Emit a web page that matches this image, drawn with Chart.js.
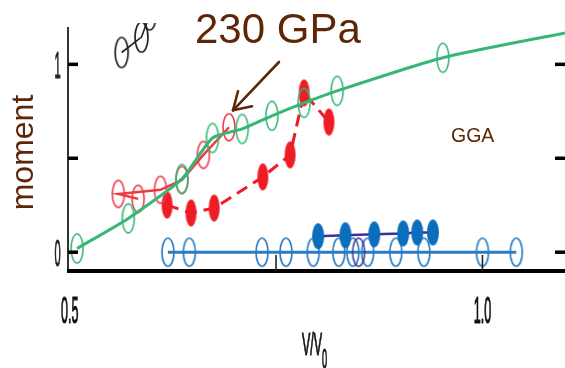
<!DOCTYPE html>
<html>
<head>
<meta charset="utf-8">
<script src="https://cdn.jsdelivr.net/npm/chart.js@4"></script>
<style>
  html, body { margin: 0; padding: 0; background: #fff; overflow: hidden; }
  #wrap { width: 565px; height: 368px; position: relative; }
</style>
</head>
<body>
<div id="wrap"><canvas id="c" width="565" height="368"></canvas></div>
<script>
// Axis ticks
const xTickValues = [0.5, 0.75, 1.0];
const xTickLabels = ['0.5', '', '1.0'];
const yTickValues = [0, 0.5, 1];
const yTickLabels = ['0', '', '1'];

// GGA moment vs V/V0
const greenX = [0.509, 0.571, 0.636, 0.673, 0.709, 0.745, 0.784, 0.824, 0.952];
const greenY = [0.02, 0.18, 0.39, 0.608, 0.656, 0.726, 0.795, 0.859, 1.035];
const greenCurveX = [...greenX, 1.1];
const greenCurveY = [...greenY, 1.167];

const redOpenX = [0.583, 0.559, 0.610, 0.636, 0.662, 0.693];
const redOpenY = [0.284, 0.31, 0.332, 0.385, 0.518, 0.665];

const redFilledX = [0.618, 0.647, 0.675, 0.734, 0.767, 0.784, 0.814];
const redFilledY = [0.251, 0.209, 0.235, 0.401, 0.518, 0.848, 0.693];

const blueOpenX = [0.619, 0.645, 0.733, 0.762, 0.795, 0.826, 0.843, 0.861, 0.895, 0.929, 1.0, 1.041];
const blueOpenY = [0, 0, 0, 0, 0, 0, 0, 0, 0, 0, 0, 0];

const purpleOpenX = [0.850];
const purpleOpenY = [0];

const blueFilledX = [0.801, 0.834, 0.869, 0.904, 0.921, 0.940];
const blueFilledY = [0.085, 0.09, 0.095, 0.1, 0.105, 0.105];

const blackX = [0.563, 0.587, 0.597];
const blackY = [1.063, 1.145, 1.263];

const pts = (xs, ys) => xs.map((v, i) => ({ x: v, y: ys[i] }));

// Elliptical markers rendered to small canvases
function ellipseMarker(w, h, color, filled, lw) {
  const c = document.createElement('canvas');
  c.width = w + 4; c.height = h + 4;
  const g = c.getContext('2d');
  g.beginPath();
  g.ellipse(c.width / 2, c.height / 2, w / 2, h / 2, 0, 0, Math.PI * 2);
  if (filled) { g.fillStyle = color; g.fill(); }
  else { g.strokeStyle = color; g.lineWidth = lw; g.stroke(); }
  return c;
}

const C = {
  green: '#36b776',
  red: '#ee3a43',
  redFill: '#ee1c25',
  blue: '#2b7cc4',
  blueFill: '#0a6ebd',
  purple: '#3b3393',
  black: '#222222',
  brown: '#5e2608'
};

const mGreen = ellipseMarker(12, 29, C.green, false, 1.6);
const mRed = ellipseMarker(12, 27, C.red, false, 1.6);
const mRedFill = ellipseMarker(11, 27, C.redFill, true);
const mBlue = ellipseMarker(12, 28, C.blue, false, 1.7);
const mBlueFill = ellipseMarker(12, 26, C.blueFill, true);
const mPurple = ellipseMarker(12, 28, C.purple, false, 1.5);
const mBlack = ellipseMarker(13, 30, C.black, false, 1.7);

function squished(ctx, text, x, baseline, font, sx, color, align) {
  ctx.save();
  ctx.font = font;
  ctx.fillStyle = color;
  ctx.strokeStyle = color;
  ctx.lineWidth = 1.2;
  ctx.textBaseline = 'alphabetic';
  const w = ctx.measureText(text).width * sx;
  let left = x;
  if (align === 'center') left = x - w / 2;
  else if (align === 'right') left = x - w;
  ctx.translate(left, baseline);
  ctx.scale(sx, 1);
  ctx.fillText(text, 0, 0);
  ctx.strokeText(text, 0, 0);
  ctx.restore();
}

const frame = {
  id: 'frame',
  afterDatasetsDraw(chart) {
    const { ctx, chartArea: a, scales: { x, y } } = chart;
    const seg = (x1, y1, x2, y2) => { ctx.beginPath(); ctx.moveTo(x1, y1); ctx.lineTo(x2, y2); ctx.stroke(); };
    ctx.save();
    ctx.lineCap = 'butt';

    // axis lines
    ctx.strokeStyle = '#333';
    ctx.lineWidth = 2;
    seg(a.left, 27, a.left, a.bottom);
    ctx.strokeStyle = '#000';
    ctx.lineWidth = 4;
    seg(a.left - 1, a.bottom, a.right, a.bottom);

    // y ticks (inward, both sides) and labels
    yTickValues.forEach((v, i) => {
      const py = y.getPixelForValue(v);
      ctx.strokeStyle = '#000';
      ctx.lineWidth = 3.5;
      seg(a.left, py, a.left + 10, py);
      seg(a.right - 10, py, a.right, py);
      if (yTickLabels[i]) squished(ctx, yTickLabels[i], 57.5, py + 14, '37px "Liberation Sans"', 0.3, '#222', 'center');
    });

    // x ticks (inward) and labels
    xTickValues.forEach((v, i) => {
      const px = x.getPixelForValue(v);
      if (v > 0.5) {
        ctx.strokeStyle = '#222';
        ctx.lineWidth = 1.6;
        seg(px, a.bottom - 16, px, a.bottom);
      }
      if (xTickLabels[i]) squished(ctx, xTickLabels[i], px, 323, '37px "Liberation Sans"', 0.34, '#111', 'center');
    });

    // x title V/V0
    squished(ctx, 'V/V', 302, 355, '32px "Liberation Sans"', 0.39, '#111', 'left');
    squished(ctx, '0', 322, 368, '28px "Liberation Sans"', 0.33, '#111', 'left');

    // y title
    ctx.save();
    ctx.translate(33, 152.5);
    ctx.rotate(-Math.PI / 2);
    ctx.font = '32px "Liberation Sans"';
    ctx.fillStyle = C.brown;
    ctx.textAlign = 'center';
    ctx.textBaseline = 'alphabetic';
    ctx.fillText('moment', 0, 0);
    ctx.restore();

    // annotations
    ctx.font = '42px "Liberation Sans"';
    ctx.fillStyle = C.brown;
    ctx.textAlign = 'left';
    ctx.textBaseline = 'alphabetic';
    ctx.fillText('230 GPa', 195, 43);
    ctx.font = '19.5px "Liberation Sans"';
    ctx.fillText('GGA', 451, 142);

    // arrow toward the 230 GPa point
    const n = redOpenX.length - 1;
    const tx = x.getPixelForValue(redOpenX[n]) + 4;
    const ty = y.getPixelForValue(redOpenY[n]) - 17;
    ctx.strokeStyle = C.brown;
    ctx.lineWidth = 2.6;
    ctx.lineCap = 'round';
    seg(279, 62, tx, ty);
    seg(tx, ty, tx + 5, ty - 19);
    seg(tx, ty, tx + 19, ty - 4);
    ctx.restore();
  }
};

new Chart(document.getElementById('c'), {
  type: 'line',
  data: {
    datasets: [
      { data: pts(blackX, blackY), order: 0, borderColor: C.black, borderWidth: 1.6,
        pointStyle: mBlack, pointRadius: 15, pointHoverRadius: 15 },
      { data: pts(greenX, greenY), order: 1, showLine: false,
        pointStyle: mGreen, pointRadius: 15, pointHoverRadius: 15 },
      { data: pts(greenCurveX, greenCurveY), order: 2, borderColor: C.green, borderWidth: 3,
        tension: 0.2, pointRadius: 0 },
      { data: pts(redOpenX, redOpenY), order: 3, borderColor: C.red, borderWidth: 2.5,
        pointStyle: mRed, pointRadius: 15, pointHoverRadius: 15 },
      { data: pts(redFilledX, redFilledY), order: 4, borderColor: C.redFill, borderWidth: 3,
        borderDash: [12, 7], pointStyle: mRedFill, pointRadius: 15, pointHoverRadius: 15 },
      { data: pts(blueFilledX, blueFilledY), order: 5, borderColor: C.purple, borderWidth: 2.5,
        pointStyle: mBlueFill, pointRadius: 15, pointHoverRadius: 15 },
      { data: pts(purpleOpenX, purpleOpenY), order: 6, showLine: false,
        pointStyle: mPurple, pointRadius: 15, pointHoverRadius: 15 },
      { data: pts(blueOpenX, blueOpenY), order: 7, borderColor: C.blue, borderWidth: 3,
        pointStyle: mBlue, pointRadius: 15, pointHoverRadius: 15 }
    ]
  },
  options: {
    responsive: false,
    animation: false,
    events: [],
    layout: { autoPadding: false, padding: { left: 68, right: 0, top: 23, bottom: 97 } },
    plugins: { legend: { display: false }, tooltip: { enabled: false } },
    scales: {
      x: { type: 'linear', min: 0.498, max: 1.1, display: false },
      y: { type: 'linear', min: -0.1, max: 1.22, display: false }
    }
  },
  plugins: [frame]
});
</script>
</body>
</html>
